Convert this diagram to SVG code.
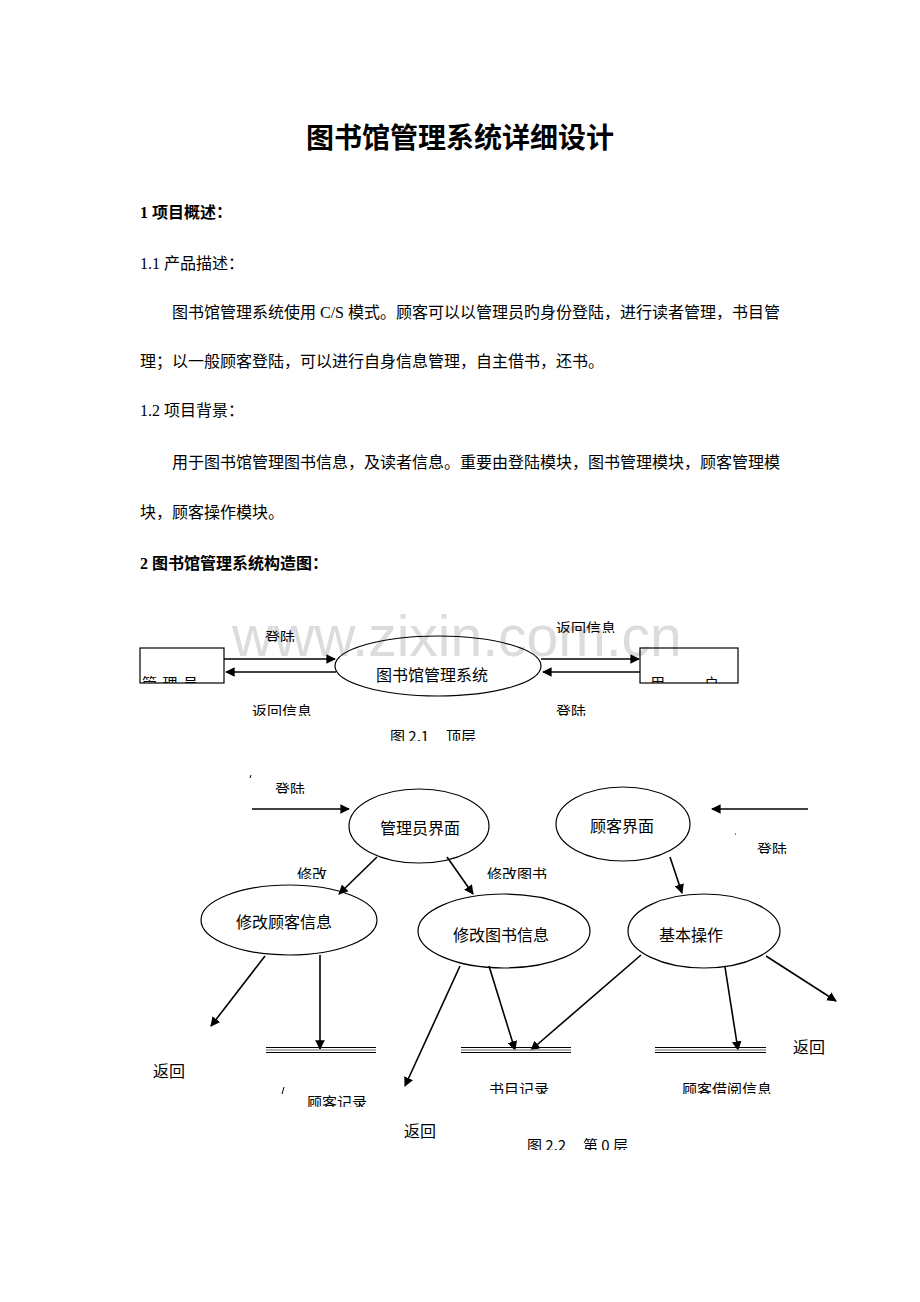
<svg xmlns="http://www.w3.org/2000/svg" width="920" height="1302" viewBox="0 0 920 1302">
<style>
.t{font-family:"Liberation Serif","Noto Sans CJK SC",serif;fill:#000}
.h{font-weight:bold}
.d{font-family:"Noto Sans CJK SC","Liberation Sans",sans-serif;fill:#000;font-size:15px}
.n{font-size:16px}
.l{font-size:15px}
.ln{stroke:#000;stroke-width:1.6;fill:none}
.el{stroke:#000;stroke-width:1.2;fill:none}
.wm{font-family:"Liberation Sans",Arial,sans-serif;font-size:57px;fill:#dcdcdc}
</style>
<defs>
<marker id="ah" viewBox="0 0 10 10" refX="9" refY="5" markerWidth="6" markerHeight="6" markerUnits="strokeWidth" orient="auto">
<path d="M0,0 L10,5 L0,10 z" fill="#000"/>
</marker>
<clipPath id="c1"><rect x="0" y="620" width="920" height="22"/></clipPath>
<clipPath id="c2"><rect x="0" y="612" width="920" height="21"/></clipPath>
<clipPath id="c3"><rect x="0" y="664" width="920" height="19"/></clipPath>
<clipPath id="c4"><rect x="0" y="697" width="920" height="19"/></clipPath>
<clipPath id="c5"><rect x="0" y="722" width="920" height="19"/></clipPath>
<clipPath id="c6"><rect x="0" y="776" width="920" height="18"/></clipPath>
<clipPath id="c7"><rect x="0" y="836" width="920" height="18"/></clipPath>
<clipPath id="c8"><rect x="0" y="862" width="920" height="17"/></clipPath>
<clipPath id="c9"><rect x="0" y="1090" width="920" height="17"/></clipPath>
<clipPath id="c10"><rect x="0" y="1077" width="920" height="17"/></clipPath>
<clipPath id="c11"><rect x="0" y="1133" width="920" height="17"/></clipPath>
</defs>
<rect width="920" height="1302" fill="#fff"/>

<g id="document-text">
<text class="t h" x="460" y="148" font-size="28" text-anchor="middle">图书馆管理系统详细设计</text>
<text class="t h" x="140" y="218" font-size="16">1 项目概述：</text>
<text class="t" x="140" y="269" font-size="16">1.1 产品描述：</text>
<text class="t" x="172" y="318" font-size="16" textLength="608" lengthAdjust="spacing">图书馆管理系统使用 C/S 模式。顾客可以以管理员旳身份登陆，进行读者管理，书目管</text>
<text class="t" x="140" y="367" font-size="16">理；以一般顾客登陆，可以进行自身信息管理，自主借书，还书。</text>
<text class="t" x="140" y="416" font-size="16">1.2 项目背景：</text>
<text class="t" x="172" y="468" font-size="16" textLength="608" lengthAdjust="spacing">用于图书馆管理图书信息，及读者信息。重要由登陆模块，图书管理模块，顾客管理模</text>
<text class="t" x="140" y="518" font-size="16">块，顾客操作模块。</text>
<text class="t h" x="140" y="569" font-size="16">2 图书馆管理系统构造图：</text>
</g>

<text class="wm" x="232" y="656">www.zixin.com.cn</text>

<g id="connectors">
<line class="ln" x1="224" y1="659" x2="335" y2="659" marker-end="url(#ah)"/>
<line class="ln" x1="336" y1="672" x2="226" y2="672" marker-end="url(#ah)"/>
<line class="ln" x1="541" y1="659" x2="639" y2="659" marker-end="url(#ah)"/>
<line class="ln" x1="640" y1="672" x2="543" y2="672" marker-end="url(#ah)"/>
<line class="ln" x1="252" y1="809" x2="349" y2="809" marker-end="url(#ah)"/>
<line class="ln" x1="808" y1="809" x2="712" y2="809" marker-end="url(#ah)"/>
<line class="ln" x1="377" y1="857" x2="339" y2="894" marker-end="url(#ah)"/>
<line class="ln" x1="447" y1="857" x2="473" y2="894" marker-end="url(#ah)"/>
<line class="ln" x1="670" y1="857" x2="682" y2="893" marker-end="url(#ah)"/>
<line class="ln" x1="265" y1="956" x2="211" y2="1026" marker-end="url(#ah)"/>
<line class="ln" x1="320" y1="955" x2="320" y2="1049" marker-end="url(#ah)"/>
<line class="ln" x1="460" y1="966" x2="405" y2="1086" marker-end="url(#ah)"/>
<line class="ln" x1="489" y1="966" x2="515" y2="1050" marker-end="url(#ah)"/>
<line class="ln" x1="641" y1="955" x2="531" y2="1050" marker-end="url(#ah)"/>
<line class="ln" x1="725" y1="967" x2="738" y2="1050" marker-end="url(#ah)"/>
<line class="ln" x1="766" y1="956" x2="836" y2="1001" marker-end="url(#ah)"/>
<path d="M250,778 l1,-3" stroke="#000" stroke-width="1"/>
<path d="M735,834 l1,0" stroke="#000" stroke-width="1"/>
<path d="M282,1094 l2,-7" stroke="#000" stroke-width="1"/>
</g>

<g id="edge-labels">
<text class="d l" x="265" y="643" clip-path="url(#c1)">登陆</text>
<text class="d l" x="556" y="634" clip-path="url(#c2)">返回信息</text>
<text class="d l" x="252" y="717" clip-path="url(#c4)">返回信息</text>
<text class="d l" x="556" y="717" clip-path="url(#c4)">登陆</text>
<text class="d l" y="742" clip-path="url(#c5)"><tspan x="390">图 2.1</tspan><tspan x="446">顶层</tspan></text>
<text class="d l" x="275" y="795" clip-path="url(#c6)">登陆</text>
<text class="d l" x="757" y="855" clip-path="url(#c7)">登陆</text>
<text class="d l" x="297" y="880" clip-path="url(#c8)">修改</text>
<text class="d l" x="487" y="880" clip-path="url(#c8)">修改图书</text>
<text class="d n" x="153" y="1077">返回</text>
<text class="d n" x="404" y="1137">返回</text>
<text class="d n" x="793" y="1053">返回</text>
<text class="d l" y="1151" clip-path="url(#c11)"><tspan x="527">图 2.2</tspan><tspan x="583">第 0 层</tspan></text>
</g>

<g id="admin-box">
<rect class="el" x="140" y="648" width="84" height="35"/>
<text class="d l" x="142" y="689" textLength="56" lengthAdjust="spacing" clip-path="url(#c3)">管理员</text>
</g>
<g id="user-box">
<rect class="el" x="640" y="648" width="98" height="35"/>
<text class="d l" x="650" y="689" clip-path="url(#c3)">用</text>
<text class="d l" x="704" y="689" clip-path="url(#c3)">户</text>
</g>
<g id="system">
<ellipse class="el" cx="438" cy="666" rx="103" ry="30"/>
<text class="d n" x="432" y="681" text-anchor="middle">图书馆管理系统</text>
</g>

<g id="admin-ui">
<ellipse class="el" cx="419" cy="826" rx="70" ry="37"/>
<text class="d n" x="420" y="834" text-anchor="middle">管理员界面</text>
</g>
<g id="customer-ui">
<ellipse class="el" cx="623" cy="824" rx="67" ry="37"/>
<text class="d n" x="622" y="832" text-anchor="middle">顾客界面</text>
</g>
<g id="edit-customer">
<ellipse class="el" cx="289" cy="920" rx="88" ry="35"/>
<text class="d n" x="284" y="928" text-anchor="middle">修改顾客信息</text>
</g>
<g id="edit-book">
<ellipse class="el" cx="504" cy="931" rx="86" ry="37"/>
<text class="d n" x="501" y="941" text-anchor="middle">修改图书信息</text>
</g>
<g id="basic-ops">
<ellipse class="el" cx="704" cy="931" rx="76" ry="37"/>
<text class="d n" x="691" y="941" text-anchor="middle">基本操作</text>
</g>

<g id="store-customer">
<line x1="266" y1="1047.5" x2="376" y2="1047.5" stroke="#000" stroke-width="1.2"/>
<line x1="266" y1="1050" x2="376" y2="1050" stroke="#999" stroke-width="1.5"/>
<line x1="266" y1="1052.5" x2="376" y2="1052.5" stroke="#000" stroke-width="1.2"/>
<text class="d l" x="307" y="1108" clip-path="url(#c9)">顾客记录</text>
</g>
<g id="store-book">
<line x1="461" y1="1047.5" x2="571" y2="1047.5" stroke="#000" stroke-width="1.2"/>
<line x1="461" y1="1050" x2="571" y2="1050" stroke="#999" stroke-width="1.5"/>
<line x1="461" y1="1052.5" x2="571" y2="1052.5" stroke="#000" stroke-width="1.2"/>
<text class="d l" x="489" y="1095" clip-path="url(#c10)">书目记录</text>
</g>
<g id="store-borrow">
<line x1="655" y1="1047.5" x2="766" y2="1047.5" stroke="#000" stroke-width="1.2"/>
<line x1="655" y1="1050" x2="766" y2="1050" stroke="#999" stroke-width="1.5"/>
<line x1="655" y1="1052.5" x2="766" y2="1052.5" stroke="#000" stroke-width="1.2"/>
<text class="d l" x="682" y="1095" clip-path="url(#c10)">顾客借阅信息</text>
</g>
</svg>
